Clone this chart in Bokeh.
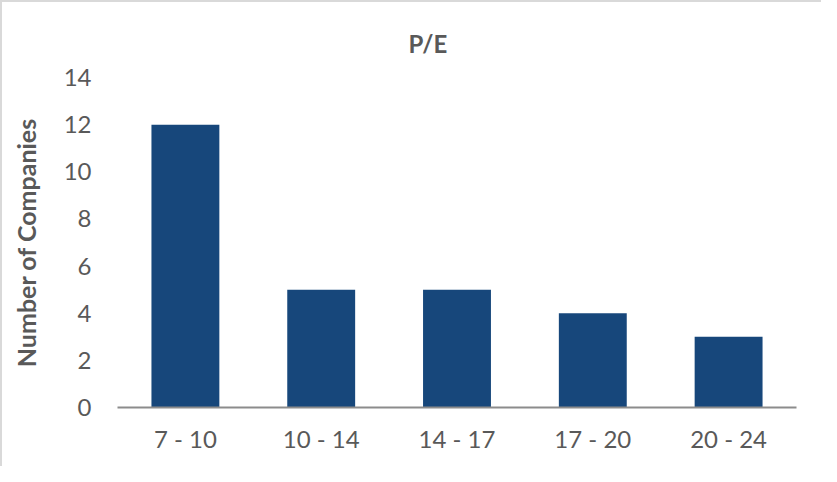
from bokeh.plotting import figure
from bokeh.models import FactorRange, Range1d, FixedTicker, ColumnDataSource
from bokeh.embed import file_html
from bokeh.resources import INLINE

categories = ["7 - 10", "10 - 14", "14 - 17", "17 - 20", "20 - 24"]
counts = [12, 5, 5, 4, 3]
y_ticks = [0, 2, 4, 6, 8, 10, 12, 14]

FONT = "Lato"
TXT = "#595959"

src = ColumnDataSource(data=dict(cat=categories, n=counts))

p = figure(
    width=821, height=466,
    x_range=FactorRange(*categories, range_padding=0),
    y_range=Range1d(0, 14),
    output_backend="svg", toolbar_location=None,
    min_border_left=115, min_border_right=27, min_border_top=75, min_border_bottom=61,
)
p.styles = {"border-left": "2px solid #d9d9d9", "border-top": "2px solid #d9d9d9"}

p.vbar(x="cat", top="n", width=0.5, source=src, fill_color="#17477B", line_color=None)

p.title.text = "P/E"
p.title.align = "left"
p.title.offset = 291
p.title.text_font = FONT
p.title.text_font_size = "24px"
p.title.text_font_style = "bold"
p.title.text_color = TXT
p.title.standoff = 39

p.outline_line_color = None
p.xgrid.grid_line_color = None
p.ygrid.grid_line_color = None

p.yaxis.ticker = FixedTicker(ticks=y_ticks)
p.yaxis.axis_line_color = None
p.yaxis.major_tick_line_color = None
p.yaxis.minor_tick_line_color = None
p.yaxis.major_label_text_font = FONT
p.yaxis.major_label_text_font_size = "24px"
p.yaxis.major_label_text_color = TXT
p.yaxis.major_label_standoff = 20
p.yaxis.axis_label = "Number of Companies"
p.yaxis.axis_label_text_font = FONT
p.yaxis.axis_label_text_font_size = "25px"
p.yaxis.axis_label_text_font_style = "bold"
p.yaxis.axis_label_text_color = TXT
p.yaxis.axis_label_standoff = 20

p.xaxis.axis_line_color = "#8c8c8c"
p.xaxis.axis_line_width = 2
p.xaxis.major_tick_line_color = None
p.xaxis.minor_tick_line_color = None
p.xaxis.major_label_text_font = FONT
p.xaxis.major_label_text_font_size = "24px"
p.xaxis.major_label_text_color = TXT
p.xaxis.major_label_standoff = 10

open("out.html", "w").write(file_html(p, INLINE))
